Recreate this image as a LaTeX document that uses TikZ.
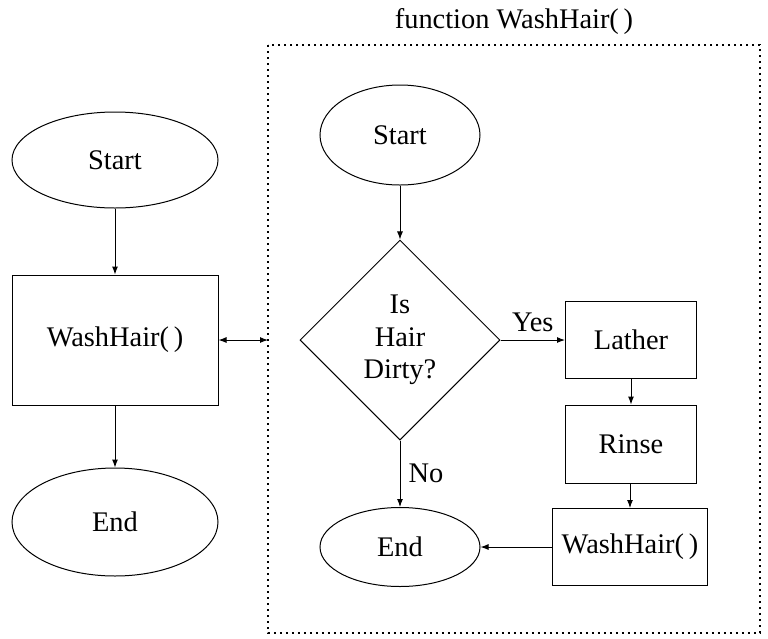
\documentclass[tikz,border=0pt]{standalone}
\usepackage{fontspec}
\setmainfont{Liberation Serif}
\usetikzlibrary{shapes.geometric,arrows.meta}
\begin{document}
\begin{tikzpicture}[x=0.5pt,y=-0.5pt,
  every node/.style={font=\fontsize{14.2}{16.3}\selectfont, inner sep=0pt, line width=0.5pt},
  term/.style={draw, ellipse},
  proc/.style={draw, rectangle},
  decide/.style={draw, diamond, aspect=1, minimum size=100pt, align=center},
  flow/.style={line width=0.5pt, -{Latex[length=4pt,width=3pt]}},
  frame/.style={line width=0.9pt, dash pattern=on 0.9pt off 2.1pt}]
  \useasboundingbox (0,0) rectangle (768,639);

  % caller: main flow
  \node[term, minimum width=103pt, minimum height=48pt] (lstart) at (115,160) {Start};
  \node[proc, minimum width=103pt, minimum height=65pt] (lcall) at (115,340) {WashHair(\,)};
  \node[term, minimum width=103pt, minimum height=54pt] (lend) at (115,522) {End};
  \draw[flow] (lstart) -- (lcall);
  \draw[flow] (lcall) -- (lend);

  % function body frame
  \node (title) at (514,22) {function WashHair(\,)};
  \draw[frame] (268,45) rectangle (760,633);
  \coordinate (fin) at (268,340);
  \draw[line width=0.5pt, {Latex[length=4pt,width=3pt]}-{Latex[length=4pt,width=3pt]}] (lcall.east) -- (fin);

  % function body
  \node[term, minimum width=80pt, minimum height=50pt] (rstart) at (400,135) {Start};
  \node[decide] (dirty) at (400,340) {Is\\Hair\\Dirty?};
  \node[proc, minimum width=65.5pt, minimum height=38.5pt] (lather) at (631,340) {Lather};
  \node[proc, minimum width=65.5pt, minimum height=39pt] (rinse) at (631,444) {Rinse};
  \node[proc, minimum width=77.5pt, minimum height=38.5pt] (rcall) at (630,547) {WashHair(\,)};
  \node[term, minimum width=80pt, minimum height=39.5pt] (rend) at (400,547) {End};

  \draw[flow] (rstart) -- (dirty);
  \draw[flow] (dirty.east) -- node[above=4pt] (yes) {Yes} (lather.west);
  \draw[flow] (lather) -- (rinse);
  \draw[flow] (rinse.south -| rcall.north) -- (rcall.north);
  \draw[flow] (rcall.west) -- (rend.east);
  \draw[flow] (dirty.south) -- node[right=4pt, pos=0.5] (no) {No} (rend.north);
\end{tikzpicture}
\end{document}
